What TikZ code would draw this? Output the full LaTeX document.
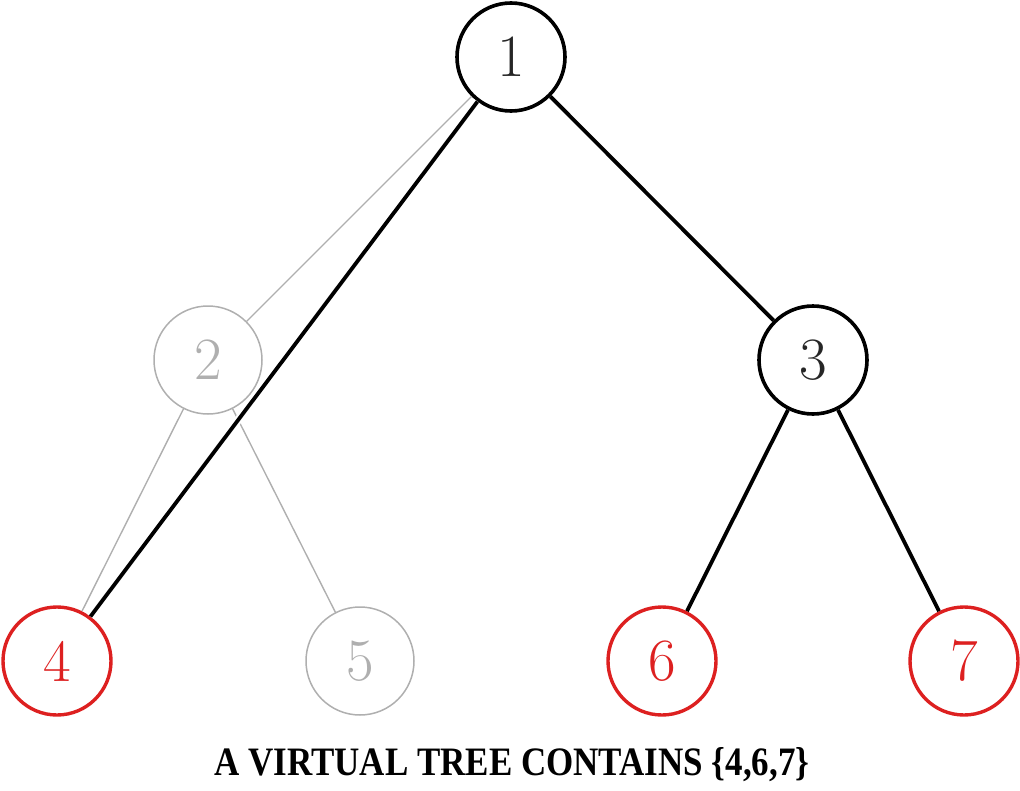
\documentclass[tikz,border=0pt]{standalone}
\usepackage{fontspec}
\setmainfont{Latin Modern Roman}
\newfontfamily\capfont{Liberation Serif}
\definecolor{myred}{RGB}{221,32,32}
\definecolor{mygray}{RGB}{175,175,175}
\begin{document}
\begin{tikzpicture}[x=1pt,y=-1pt,
  base/.style={circle,minimum size=108pt,inner sep=0pt,font=\fontsize{60}{64}\selectfont},
  blk/.style={base,draw=black,line width=3.6pt,text=black!85},
  grey/.style={base,draw=mygray,line width=1.5pt,text=mygray},
  rednode/.style={base,draw=myred,line width=3.4pt,text=myred},
  bedge/.style={draw=black,line width=3.8pt},
  gedge/.style={draw=mygray,line width=1.4pt}]
\useasboundingbox (0,0) rectangle (1020,790);
\node[blk] (n1) at (511,57) {1};
\node[grey] (n2) at (208,360) {2};
\node[blk] (n3) at (813,360) {3};
\node[rednode] (n4) at (57,661) {4};
\node[grey] (n5) at (360,661) {5};
\node[rednode] (n6) at (662,661) {6};
\node[rednode] (n7) at (964,661) {7};
\draw[gedge] (n1) -- (n2);
\draw[gedge] (n2) -- (n4);
\draw[gedge] (n2) -- (n5);
\draw[white,line width=8pt] (n1) -- (n4);
\draw[bedge] (n1) -- (n4);
\draw[bedge] (n1) -- (n3);
\draw[bedge] (n3) -- (n6);
\draw[bedge] (n3) -- (n7);
\node (cap) at (512,765) {\resizebox{595pt}{28pt}{\capfont\bfseries A VIRTUAL TREE CONTAINS \{4,6,7\}}};
\end{tikzpicture}
\end{document}
